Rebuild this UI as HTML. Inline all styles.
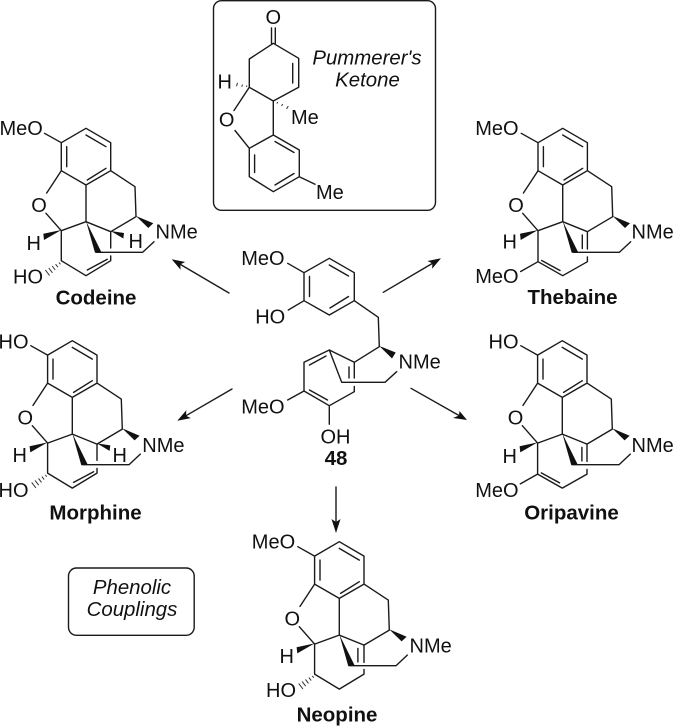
<!DOCTYPE html>
<html>
<head>
<meta charset="utf-8">
<style>
html,body{margin:0;padding:0;background:#fff;width:674px;height:726px;overflow:hidden}
svg{display:block}
text{font-family:"Liberation Sans",sans-serif;font-size:20px;fill:#111}
.b{font-weight:bold;font-size:20.5px}
.i{font-style:italic;font-size:20.4px}
.l{fill:none;stroke:#1a1a1a;stroke-width:1.4;stroke-linejoin:round;stroke-linecap:round}
.h{fill:none;stroke:#333;stroke-width:1}
.w{fill:#111;stroke:none}
</style>
</head>
<body>
<svg width="674" height="726" viewBox="0 0 674 726" xmlns="http://www.w3.org/2000/svg">
<defs>
<g id="core">
  <path class="l" d="M61.3 142.7L86 128.3L110.7 142.7V170.7L86 185L61.3 170.7V142.7M61.3 142.7L44.5 133.3M86 135L106 146.7M106 168.3L87.3 180M66.7 146.7V166.7M61.3 170.7L46.7 193M46 213.3L61.3 230.7L86 221.7V185M86 221.7L110.7 231.7L136 216.7L135 186.7L110.7 170.7M154 241.7L142.7 252.3H96.7"/>
  <polygon class="w" points="136,216 153.3,223.3 148.3,228"/>
  <polygon class="w" points="86,221 95,252.8 101.5,252.4"/>
  <polygon class="w" points="61.3,230 43.3,233.8 44,240"/>
</g>
<g id="hash">
  <path class="h" d="M59 262.5l1.4 1.8M55.6 264.2l2.3 3M52.2 266l3 4M48.8 268l3.6 4.8M45.4 270l4.2 5.6"/>
</g>
<g id="hw">
  <polygon class="w" points="110.7,231 124,233 123.3,238.5"/>
  <path class="l" d="M61.3 230.7V260.7L86 275.7L110.7 260.7V256M110.7 231.7V248M87.3 270L107.3 259.3"/>
</g>
<g id="ome">
  <path class="l" d="M61.3 230.7V261.7L86 275.7L110.7 261.7V257M110.7 231.7V249M65 260.5L83.3 270.5M61.3 261.7L44 271.5M105.6 235V248.5"/>
</g>
</defs>

<!-- Pummerer box -->
<rect x="213.5" y="0.7" width="222" height="209.6" rx="8" fill="none" stroke="#1a1a1a" stroke-width="1.4"/>
<text x="273.3" y="24" text-anchor="middle">O</text>
<path class="l" d="M271.5 28V43.5M275.3 28V43.5M273.3 43.3L298.7 58.3V87.3L273.3 101L249.3 87.3V59L273.3 43.3M292.7 63.5V83M249.3 87.3L234 110.5M273.3 101V135L299.3 150V176.7L273.3 191.7L249.3 176.7V148.3L273.3 135M235 130.5L249.3 148.3M275 141.5L294 152.5M294 173.5L275 185M254.6 155V172.5M299.3 176.7L315 184.3"/>
<path class="h" d="M247 85.5l-.6 1.4M242.5 84.5l-.8 2.2M237.5 82.8l-1 3.4"/>
<path class="h" d="M276.8 103.5l1-1.4M281.5 106l1.3-2M286.5 109l1.8-3"/>
<text x="217.5" y="88.5">H</text>
<text x="226.7" y="126.5" text-anchor="middle">O</text>
<text x="291" y="124">Me</text>
<text x="316" y="199">Me</text>
<text class="i" x="367" y="64.5" text-anchor="middle">Pummerer's</text>
<text class="i" x="367.5" y="86.5" text-anchor="middle">Ketone</text>

<!-- Codeine -->
<use href="#core"/><use href="#hw"/><use href="#hash"/>
<text x="-0.5" y="135">MeO</text>
<text x="39" y="212" text-anchor="middle">O</text>
<text x="26.5" y="250">H</text>
<text x="128.5" y="248">H</text>
<text x="155.5" y="238.5">NMe</text>
<text x="13" y="283.5">HO</text>
<text class="b" x="96" y="304.5" text-anchor="middle">Codeine</text>

<!-- Thebaine -->
<g transform="translate(476.7,0)"><use href="#core"/><use href="#ome"/></g>
<text x="475.2" y="135">MeO</text>
<text x="516" y="212" text-anchor="middle">O</text>
<text x="502.5" y="248.5">H</text>
<text x="631.5" y="238.5">NMe</text>
<text x="475.2" y="283">MeO</text>
<text class="b" x="572.5" y="304" text-anchor="middle">Thebaine</text>

<!-- Morphine -->
<g transform="translate(-13.7,212.4)"><use href="#core"/><use href="#hw"/><use href="#hash"/></g>
<text x="-1.5" y="348.5">HO</text>
<text x="25.3" y="424.4" text-anchor="middle">O</text>
<text x="12.5" y="462">H</text>
<text x="112.5" y="462">H</text>
<text x="142.3" y="451.8">NMe</text>
<text x="-1.5" y="497">HO</text>
<text class="b" x="95.5" y="519.5" text-anchor="middle">Morphine</text>

<!-- Oripavine -->
<g transform="translate(476.3,212.4)"><use href="#core"/><use href="#ome"/></g>
<text x="488.5" y="348.5">HO</text>
<text x="515.5" y="424.4" text-anchor="middle">O</text>
<text x="502.5" y="463">H</text>
<text x="631.5" y="451.8">NMe</text>
<text x="475.2" y="497">MeO</text>
<text class="b" x="571.5" y="519.5" text-anchor="middle">Oripavine</text>

<!-- Neopine -->
<g transform="translate(253.3,413.4)">
  <use href="#core"/><use href="#hash"/>
  <path class="l" d="M61.3 230.7V260.7L86 275.7L110.7 260.7V256M110.7 231.7V249M104.6 235V248.5"/>
</g>
<text x="251.8" y="548.5">MeO</text>
<text x="292.3" y="625.4" text-anchor="middle">O</text>
<text x="279.5" y="663">H</text>
<text x="409.5" y="652.5">NMe</text>
<text x="266" y="697">HO</text>
<text class="b" x="337" y="721.5" text-anchor="middle">Neopine</text>

<!-- Compound 48 -->
<path class="l" d="M304 272.7L329.3 258.3L354.3 272.7V300.7L329.3 315L304 300.7V272.7M329.3 265L348.5 276M348.5 296.5L330 308M309.5 276.5V296.5M304 272.7L287.7 263.3M304 300.7L288.3 310M354.3 300.7L378.3 317.3L379.3 346.7L354.3 362.3V378M354.3 386.5V391.7L329.3 405.7L304 391V362.3L329.3 350L354.3 362.3M349 367V378M309.5 365L326 356M309.5 390L327.5 400M304 391L287.7 400M329.3 405.7V424.3M329.3 350L341.7 382.3H385L396.7 371.7"/>
<polygon class="w" points="379.3,346 395.7,352.5 392,358.5"/>
<text x="241.2" y="265">MeO</text>
<text x="255.2" y="323.5">HO</text>
<text x="398.5" y="368.5">NMe</text>
<text x="241.2" y="413.5">MeO</text>
<text x="320.5" y="443.5">OH</text>
<text class="b" x="336" y="465" text-anchor="middle">48</text>

<!-- Arrows -->
<path class="l" d="M229 293L180.3 264.4M383.3 292.3L432.4 263.4M232 389L186 415.7M411 388.3L459 415.5M336 487V523"/>
<polygon class="w" points="171.7,259.3 185.2,262 180.3,264.4 180.6,269.8"/>
<polygon class="w" points="441,258.3 432.1,268.8 432.4,263.4 427.5,261"/>
<polygon class="w" points="177.3,420.7 186.3,410.3 186,415.7 190.8,418.1"/>
<polygon class="w" points="467,420 453,418 459,415.5 459.5,411"/>
<polygon class="w" points="336,533 331.5,519 336,522 340.5,519"/>

<!-- Phenolic box -->
<rect x="68.5" y="568" width="125.7" height="67.3" rx="8" fill="none" stroke="#1a1a1a" stroke-width="1.4"/>
<text class="i" x="132" y="594" text-anchor="middle">Phenolic</text>
<text class="i" x="132" y="616" text-anchor="middle">Couplings</text>
</svg>
</body>
</html>
